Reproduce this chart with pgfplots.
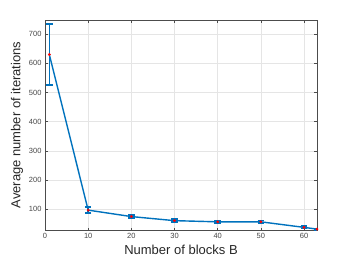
\documentclass[border=0pt]{standalone}
\usepackage{pgfplots}
\pgfplotsset{compat=1.18}
\usepackage{fontspec}
\setmainfont{Liberation Sans}
\definecolor{mblue}{RGB}{0,114,189}
\definecolor{tickgrey}{RGB}{70,70,70}
\begin{document}
\begin{tikzpicture}
\path[use as bounding box] (0,0) rectangle (350pt,263pt);
\begin{axis}[
  at={(45pt,33pt)}, anchor=south west,
  scale only axis, width=272pt, height=210pt,
  xmin=0, xmax=63, ymin=29, ymax=748,
  xtick={0,10,20,30,40,50,60},
  ytick={100,200,300,400,500,600,700},
  grid=major,
  major grid style={draw=black!10, line width=0.5pt},
  axis line style={draw=black!70, line width=0.5pt},
  tick style={draw=black!70, line width=0.4pt},
  tick align=inside,
  major tick length=2.5pt,
  ticklabel style={font=\fontsize{7.5}{8}\selectfont, text=tickgrey},
  /pgf/number format/assume math mode=true,
  xlabel={Number of blocks B},
  ylabel={Average number of iterations},
  label style={font=\fontsize{13}{15}\selectfont, text=black!85},
  xlabel style={yshift=1pt},
  ylabel style={yshift=-1pt},
]
\addplot[color=mblue, line width=1.4pt, mark=none,
  error bars/.cd, y dir=both, y explicit,
  error bar style={line width=1.6pt, color=mblue},
  error mark options={rotate=90, mark size=3.2pt, line width=1.6pt, color=mblue}]
  coordinates {
  (1,630) +- (0,105)
  (10,97) +- (0,10)
  (20,75) +- (0,5)
  (30,61) +- (0,5)
  (40,57) +- (0,5)
  (50,57) +- (0,5)
  (60,38) +- (0,4)
  (63,32) +- (0,2)
};
\addplot[only marks, mark=*, mark size=1.2pt, red, mark options={draw=red, fill=red}]
  coordinates {(1,630) (10,97) (20,75) (30,61) (40,57) (50,57) (60,38) (63,32)};
\end{axis}
\end{tikzpicture}
\end{document}
